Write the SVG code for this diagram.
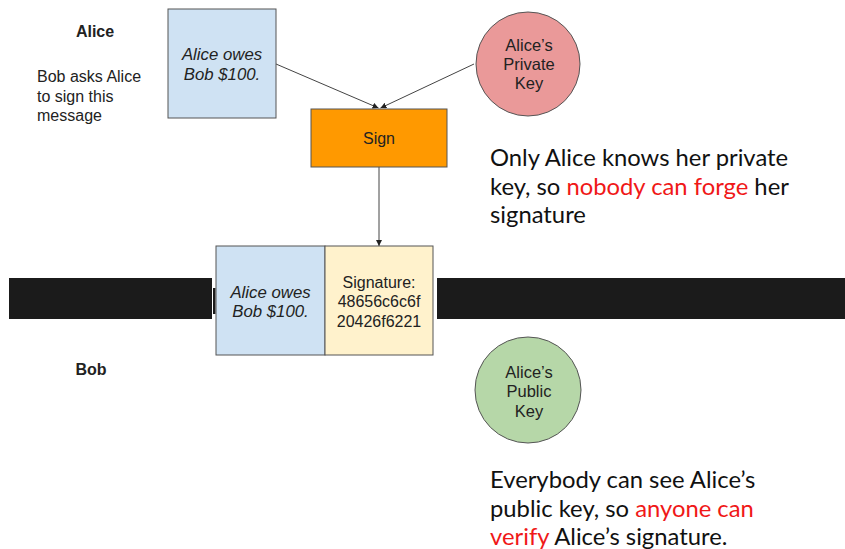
<svg xmlns="http://www.w3.org/2000/svg" width="845" height="549" viewBox="0 0 845 549">
  <style>
    .lbl { font-family: "Liberation Sans", Arial, sans-serif; font-size: 16px; fill: #222; }
    .bold { font-weight: bold; }
    .it { font-style: italic; font-size: 16.8px; }
    .key { font-size: 16.5px; }
    .mid { text-anchor: middle; }
    .box { stroke: #555; stroke-width: 1; }
    .big { font-family: Lato, "Noto Sans", sans-serif; font-size: 23.8px; fill: #111; }
    .red { fill: #f01818; }
    .conn { stroke: #444; stroke-width: 1; fill: none; marker-end: url(#arrow); }
    .bar { fill: #1b1b1b; }
  </style>
  <defs>
    <marker id="arrow" viewBox="0 0 10 10" refX="10" refY="5" markerWidth="6" markerHeight="6" orient="auto" markerUnits="userSpaceOnUse">
      <path d="M0,0 L10,5 L0,10 z" fill="#222"/>
    </marker>
  </defs>
  <rect width="845" height="549" fill="#fff"/>

  <!-- channel between Alice and Bob -->
  <g id="channel">
    <rect class="bar" x="9" y="278" width="203" height="41"/>
    <rect class="bar" x="437" y="278" width="408" height="41"/>
    <rect class="bar" x="213" y="288" width="2.5" height="26"/>
  </g>

  <!-- side labels -->
  <g id="alice-label">
    <text class="lbl bold mid" x="95" y="37">Alice</text>
    <text class="lbl" x="37" y="82">Bob asks Alice</text>
    <text class="lbl" x="37" y="102">to sign this</text>
    <text class="lbl" x="37" y="121">message</text>
  </g>
  <g id="bob-label">
    <text class="lbl bold mid" x="91" y="375">Bob</text>
  </g>

  <!-- connectors -->
  <g id="connectors">
    <line class="conn" x1="276" y1="64" x2="378.5" y2="108"/>
    <line class="conn" x1="474" y1="64" x2="380.5" y2="108"/>
    <line class="conn" x1="379" y1="167" x2="379" y2="246"/>
  </g>

  <g id="message">
    <rect class="box" x="168" y="9" width="108" height="109" fill="#cfe2f3"/>
    <text class="lbl it mid" x="222" y="60">Alice owes</text>
    <text class="lbl it mid" x="222" y="80">Bob $100.</text>
  </g>

  <g id="private-key">
    <circle class="box" cx="528" cy="64" r="52" fill="#ea9999"/>
    <text class="lbl key mid" x="529" y="51">Alice’s</text>
    <text class="lbl key mid" x="529" y="70">Private</text>
    <text class="lbl key mid" x="529" y="89">Key</text>
  </g>

  <g id="sign">
    <rect class="box" x="311" y="109" width="136" height="58" fill="#ff9900"/>
    <text class="lbl mid" x="379" y="144">Sign</text>
  </g>

  <g id="signed-message">
    <rect class="box" x="216" y="246" width="109" height="109" fill="#cfe2f3"/>
    <rect class="box" x="325" y="246" width="108" height="109" fill="#fff2cc"/>
    <text class="lbl it mid" x="270.5" y="298">Alice owes</text>
    <text class="lbl it mid" x="270.5" y="317">Bob $100.</text>
    <text class="lbl mid" x="379" y="288">Signature:</text>
    <text class="lbl mid" x="379" y="307">48656c6c6f</text>
    <text class="lbl mid" x="379" y="327">20426f6221</text>
  </g>

  <g id="public-key">
    <circle class="box" cx="528" cy="390" r="53" fill="#b6d7a8"/>
    <text class="lbl key mid" x="529" y="378">Alice’s</text>
    <text class="lbl key mid" x="529" y="397">Public</text>
    <text class="lbl key mid" x="529" y="417">Key</text>
  </g>

  <g id="note-private">
    <text class="big" x="490" y="166">Only Alice knows her private</text>
    <text class="big" x="490" y="195">key, so <tspan class="red">nobody can forge</tspan> her</text>
    <text class="big" x="490" y="223">signature</text>
  </g>

  <g id="note-public">
    <text class="big" x="490" y="488">Everybody can see Alice’s</text>
    <text class="big" x="490" y="517">public key, so <tspan class="red">anyone can</tspan></text>
    <text class="big" x="490" y="545"><tspan class="red">verify</tspan> Alice’s signature.</text>
  </g>
</svg>
